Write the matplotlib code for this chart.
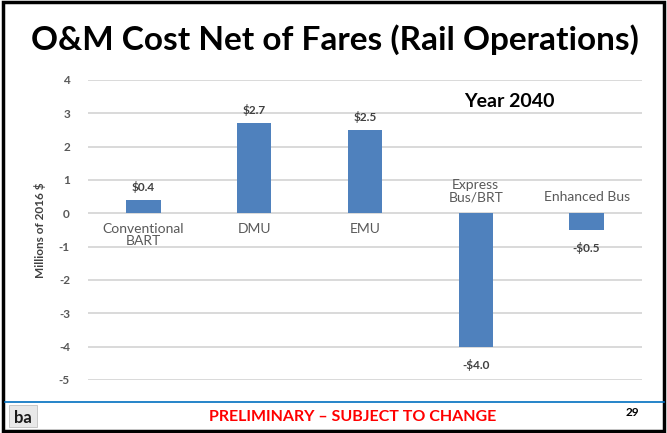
import matplotlib.pyplot as plt
from matplotlib.patches import Rectangle, FancyBboxPatch

# dados do gráfico
categorias = ['Conventional\nBART', 'DMU', 'EMU', 'Express\nBus/BRT', 'Enhanced Bus']
valores = [0.4, 2.7, 2.5, -4.0, -0.5]
rotulos = ['$0.4', '$2.7', '$2.5', '-$4.0', '-$0.5']
yticks = [4, 3, 2, 1, 0, -1, -2, -3, -4, -5]

plt.rcParams['font.family'] = ['Lato', 'DejaVu Sans']

fig = plt.figure(figsize=(6.67, 4.33), dpi=100)
W, H = 667, 433

def fx(px):
    return px / W

def fy(py):
    return 1 - py / H

ax = fig.add_axes([fx(88), fy(380), fx(642) - fx(88), fy(80) - fy(380)])

x = list(range(len(categorias)))
ax.bar(x, valores, width=0.31, color='#4f81bd', zorder=3)

ax.set_xlim(-0.5, 4.5)
ax.set_ylim(-5, 4)
ax.set_yticks(yticks)
ax.set_yticklabels([str(t) for t in yticks], color='#595959', fontsize=8.5, fontweight='bold')
ax.tick_params(axis='y', length=0, pad=13)
ax.set_xticks([])
ax.grid(axis='y', color='#d9d9d9', linewidth=1.4, zorder=0)
for s in ax.spines.values():
    s.set_visible(False)

ax.set_ylabel('Millions of 2016 $', color='#404040', fontsize=8.5, fontweight='bold', labelpad=9)

# rótulos das categorias junto ao eixo zero
for i, (c, v) in enumerate(zip(categorias, valores)):
    if v >= 0:
        ax.text(i, -0.28, c, ha='center', va='top', fontsize=10, color='#595959',
                linespacing=1.05)
    else:
        ax.text(i, 0.3, c, ha='center', va='bottom', fontsize=10, color='#595959',
                linespacing=1.05)

# rótulos de valores
for i, (v, r) in enumerate(zip(valores, rotulos)):
    if v >= 0:
        ax.annotate(r, (i, v), xytext=(0, 5), textcoords='offset points',
                    ha='center', va='bottom', fontsize=8.5, fontweight='bold', color='#404040')
    else:
        ax.annotate(r, (i, v), xytext=(0, -9), textcoords='offset points',
                    ha='center', va='top', fontsize=8.5, fontweight='bold', color='#404040')

ax.text(3.3, 3.35, 'Year 2040', ha='center', va='center', fontsize=14, fontweight='bold',
        color='black')

# título
fig.text(fx(335), fy(40), 'O&M Cost Net of Fares (Rail Operations)', ha='center', va='center',
         fontsize=24, fontweight='bold', color='black')

# rodapé
fig.add_artist(plt.Line2D([fx(5), fx(664)], [fy(402), fy(402)], color='#0070c0', linewidth=1.2))
fig.text(fx(353), fy(417), 'PRELIMINARY \u2013 SUBJECT TO CHANGE', ha='center', va='center',
         fontsize=11.5, fontweight='bold', color='#ff0000')
fig.text(fx(632), fy(413), '29', ha='center', va='center', fontsize=8.5, fontweight='bold',
         color='black')

# logotipo
fig.add_artist(FancyBboxPatch((fx(9), fy(427)), fx(28), fy(405) - fy(427),
                              boxstyle='square,pad=0', facecolor='#e8e8e8',
                              edgecolor='#c0c0c0', linewidth=0.6, transform=fig.transFigure))
fig.text(fx(23), fy(418), 'ba', ha='center', va='center', fontsize=12, fontweight='bold',
         color='#1a1a1a')

# borda do slide
fig.add_artist(Rectangle((0.004, 0.004), 0.992, 0.992, fill=False, edgecolor='black',
                         linewidth=2.5, transform=fig.transFigure))

fig.savefig('out.png', dpi=100)
